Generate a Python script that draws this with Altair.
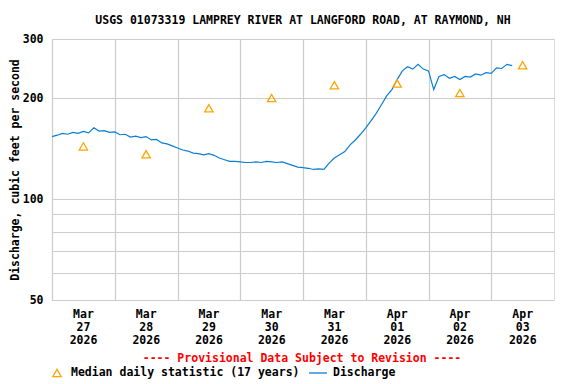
import altair as alt
import pandas as pd

# ---------------- data ----------------
# discharge (cfs), 2-hourly from 2026-03-27 00:00
discharge = [
    153.5, 155, 157, 156, 158, 157, 159, 157.5, 163, 159.5, 160, 158,
    158.5, 155.5, 156, 153, 154, 152.5, 153.5, 150, 150.5, 147, 146, 144,
    142, 140, 139, 137, 136.5, 135.5, 136.5, 135, 132.5, 131, 129.5, 129.5,
    129, 128.5, 128.5, 129, 128.5, 129.5, 129, 128.5, 129, 127.5, 126, 124.5,
    124, 123.5, 122.5, 123, 122.5, 128, 132.5, 135.5, 138.5, 145, 150, 156,
    163, 171, 180, 191, 203, 212, 227, 241, 248, 244, 252, 244,
    241, 212, 232, 235, 229, 232, 227, 232, 231, 236, 234, 238,
    237, 246, 245, 252, 250,
]
start_time = "2026-03-27 00:00"

median_dates = [
    "2026-03-27T12:00:00", "2026-03-28T12:00:00", "2026-03-29T12:00:00",
    "2026-03-30T12:00:00", "2026-03-31T12:00:00", "2026-04-01T12:00:00",
    "2026-04-02T12:00:00", "2026-04-03T12:00:00",
]
median_values = [143.5, 136, 186.5, 200, 218.5, 221, 207, 250.5]

day_ticks = [(3, 27), (3, 28), (3, 29), (3, 30), (3, 31), (4, 1), (4, 2), (4, 3)]
y_grid = [50, 60, 70, 80, 90, 100, 200, 300]
y_labels = [50, 100, 200, 300]

title_text = "USGS 01073319 LAMPREY RIVER AT LANGFORD ROAD, AT RAYMOND, NH"
y_title = "Discharge, cubic feet per second"
provisional_text = "---- Provisional Data Subject to Revision ----"
median_label = "Median daily statistic (17 years)"
discharge_label = "Discharge"

FONT = "DejaVu Sans Mono"
LINE_COLOR = "#0a7fd2"
TRI_COLOR = "#ffa500"

# ---------------- tables ----------------
df = pd.DataFrame({
    "time": pd.date_range(start_time, periods=len(discharge), freq="2h"),
    "q": discharge,
})
med = pd.DataFrame({"time": pd.to_datetime(median_dates), "q": median_values})
one = pd.DataFrame({"a": [0]})

label_test = " || ".join(f"datum.value == {v}" for v in y_labels)

x_enc = alt.X(
    "time:T",
    scale=alt.Scale(domain=[alt.DateTime(year=2026, month=3, date=27),
                            alt.DateTime(year=2026, month=4, date=4)]),
    axis=alt.Axis(
        values=[alt.DateTime(year=2026, month=m, date=d) for m, d in day_ticks],
        labelExpr="[timeFormat(datum.value, '%b'), timeFormat(datum.value, '%d'), timeFormat(datum.value, '%Y')]",
        labelOffset=31,
        labelAngle=0,
        labelAlign="center",
        labelBaseline="top",
        labelLineHeight=13,
        labelPadding=8,
        labelFlush=False,
        labelOverlap=False,
        labelBound=False,
        labelFont=FONT,
        labelFontWeight="bold",
        labelFontSize=11.5,
        labelColor="black",
        ticks=False,
        domain=False,
        grid=True,
        gridColor="#cccccc",
        gridWidth=1.2,
        title=None,
    ),
)

y_enc = alt.Y(
    "q:Q",
    scale=alt.Scale(type="log", domain=[50, 300], nice=False),
    axis=alt.Axis(
        values=y_grid,
        labelExpr=f"({label_test}) ? format(datum.value, 'd') : ''",
        labelFlush=False,
        labelOverlap=False,
        labelPadding=9,
        labelFont=FONT,
        labelFontWeight="bold",
        labelFontSize=11.5,
        labelColor="black",
        ticks=False,
        domain=False,
        grid=True,
        gridColor="#cccccc",
        gridWidth=1.2,
        title=y_title,
        titleFont=FONT,
        titleFontWeight="bold",
        titleFontSize=11.5,
        titleColor="black",
        titlePadding=2,
    ),
)

line = alt.Chart(df).mark_line(color=LINE_COLOR, strokeWidth=1.2).encode(x=x_enc, y=y_enc)

points = alt.Chart(med).mark_point(
    shape="triangle-up", size=70, color=TRI_COLOR, filled=False, strokeWidth=1.3, opacity=1
).encode(x="time:T", y="q:Q")

txt_style = dict(font=FONT, fontWeight="bold", fontSize=11.5, baseline="middle")

prov = alt.Chart(one).mark_text(color="red", align="center", **txt_style).encode(
    x=alt.value(250), y=alt.value(320), text=alt.value(provisional_text))
leg_tri = alt.Chart(one).mark_point(
    shape="triangle-up", size=70, color=TRI_COLOR, filled=False, strokeWidth=1.3, opacity=1
).encode(x=alt.value(5), y=alt.value(334))
leg_med = alt.Chart(one).mark_text(color="black", align="left", **txt_style).encode(
    x=alt.value(19), y=alt.value(334), text=alt.value(median_label))
leg_line = alt.Chart(one).mark_rule(color=LINE_COLOR, strokeWidth=1.3).encode(
    x=alt.value(257), x2=alt.value(275), y=alt.value(334))
leg_dis = alt.Chart(one).mark_text(color="black", align="left", **txt_style).encode(
    x=alt.value(281), y=alt.value(334), text=alt.value(discharge_label))

chart = alt.layer(line, points, prov, leg_tri, leg_med, leg_line, leg_dis).properties(
    width=502,
    height=261,
    autosize=alt.AutoSizeParams(type="none"),
    padding={"left": 44, "top": 31, "right": 14, "bottom": 80},
    title=alt.TitleParams(
        text=title_text, font=FONT, fontWeight="bold", fontSize=11.5,
        color="black", anchor="middle", offset=7,
    ),
).configure_view(stroke="black", strokeWidth=1.5).configure(background="white")

chart.save("out.html", embed_options={"renderer": "svg", "actions": False})
